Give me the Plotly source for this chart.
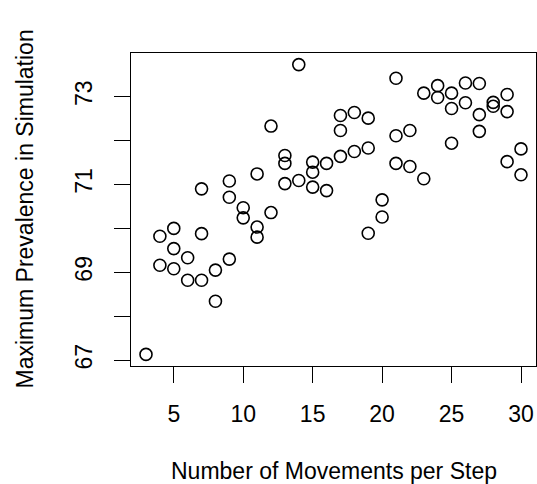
import plotly.graph_objects as go

movements = [3,
             4, 4,
             5, 5, 5,
             6, 6,
             7, 7, 7,
             8, 8,
             9, 9, 9,
             10, 10,
             11, 11, 11,
             12, 12,
             13, 13, 13,
             14, 14,
             15, 15, 15,
             16, 16,
             17, 17, 17,
             18, 18,
             19, 19, 19,
             20, 20,
             21, 21, 21,
             22, 22,
             23, 23,
             24, 24,
             25, 25, 25,
             26, 26,
             27, 27, 27,
             28, 28,
             29, 29, 29,
             30, 30]
prevalence = [67.13,
              69.82, 69.16,
              70.00, 69.54, 69.08,
              69.33, 68.82,
              69.88, 68.82, 70.90,
              69.05, 68.34,
              69.30, 71.08, 70.71,
              70.47, 70.24,
              70.03, 69.80, 71.24,
              70.36, 72.33,
              71.66, 71.48, 71.02,
              73.73, 71.09,
              71.51, 71.28, 70.94,
              71.48, 70.86,
              72.57, 72.23, 71.64,
              72.64, 71.75,
              72.51, 71.83, 69.89,
              70.65, 70.26,
              73.42, 72.11, 71.48,
              72.23, 71.41,
              73.08, 71.13,
              73.25, 72.98,
              73.08, 72.73, 71.94,
              73.31, 72.86,
              73.30, 72.59, 72.21,
              72.87, 72.78,
              73.05, 72.66, 71.52,
              71.81, 71.22]

x_ticks = [5, 10, 15, 20, 25, 30]
y_ticks = [67, 68, 69, 70, 71, 72, 73]
y_tick_labels = ["67", "", "69", "", "71", "", "73"]

FONT = "Liberation Sans, Arial, sans-serif"
FS = 23

fig = go.Figure()
fig.add_trace(go.Scatter(
    x=movements, y=prevalence, mode="markers",
    marker=dict(symbol="circle-open", size=12, color="black",
                line=dict(width=1.6, color="black")),
    hoverinfo="skip", showlegend=False,
))

axis_common = dict(
    showgrid=False, zeroline=False, showline=True, mirror=True,
    linecolor="black", linewidth=1.2, ticks="outside", ticklen=16,
    tickwidth=1.2, tickcolor="black",
    tickfont=dict(family=FONT, size=FS, color="black"),
)

fig.update_layout(
    width=537, height=484,
    margin=dict(l=131, r=1, t=53, b=118),
    paper_bgcolor="white", plot_bgcolor="white",
    font=dict(family=FONT, size=FS, color="black"),
    xaxis=dict(range=[1.92, 31.08], tickvals=x_ticks,
               ticktext=[str(v) for v in x_ticks],
               ticklabelstandoff=11, **axis_common),
    yaxis=dict(range=[66.866, 73.994], tickvals=y_ticks,
               ticktext=y_tick_labels, tickangle=-90,
               ticklabelstandoff=13, **axis_common),
    annotations=[
        dict(text="Number of Movements per Step", xref="paper", yref="paper",
             x=0.5, y=0, xanchor="center", yanchor="middle", yshift=-105,
             showarrow=False, font=dict(family=FONT, size=FS, color="black")),
        dict(text="Maximum Prevalence in Simulation", xref="paper", yref="paper",
             x=0, y=0.5, xanchor="center", yanchor="middle", xshift=-107,
             textangle=-90, showarrow=False,
             font=dict(family=FONT, size=FS, color="black")),
    ],
)

fig.write_html("out.html",
               config={"displayModeBar": False},
               post_script="document.body.style.margin='0';document.body.style.overflow='hidden';")
